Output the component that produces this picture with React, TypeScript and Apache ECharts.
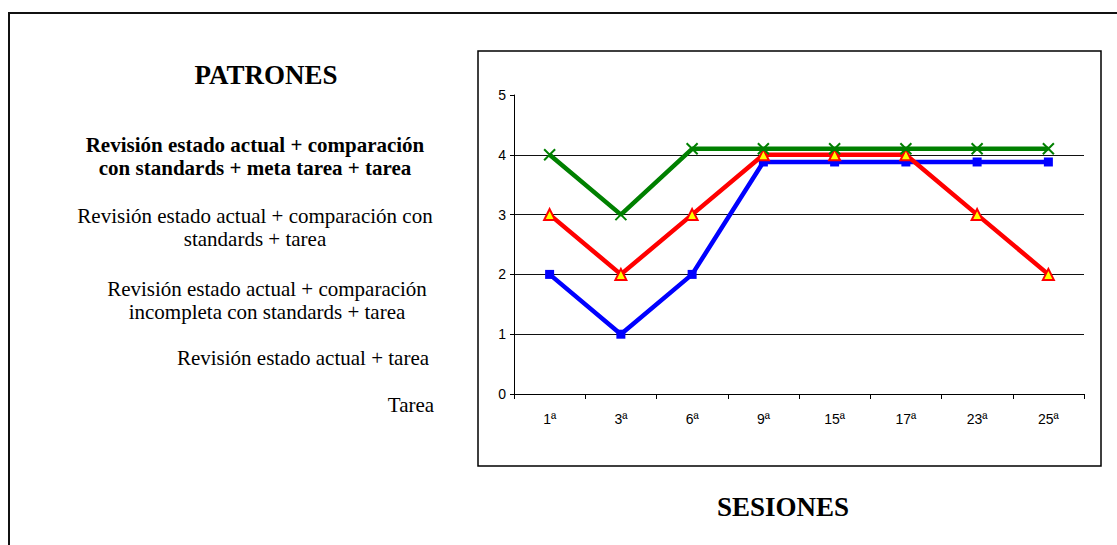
import React, { useEffect, useRef } from "react";
import * as echarts from "echarts";

const sessions = ["1ª", "3ª", "6ª", "9ª", "15ª", "17ª", "23ª", "25ª"];
const blueValues = [2, 1, 2, 3.88, 3.88, 3.88, 3.88, 3.88];
const redValues = [3, 2, 3, 4, 4, 4, 3, 2];
const greenValues = [4, 3, 4.1, 4.1, 4.1, 4.1, 4.1, 4.1];
const yTicks = [0, 1, 2, 3, 4, 5];

const leftTitle = "PATRONES";
const bottomTitle = "SESIONES";
const patternLines = [
  { text: "Revisión estado actual + comparación", bold: true, cx: 255, y: 145 },
  { text: "con standards + meta tarea + tarea", bold: true, cx: 255, y: 168 },
  { text: "Revisión estado actual + comparación con", bold: false, cx: 255, y: 216 },
  { text: "standards + tarea", bold: false, cx: 255, y: 239 },
  { text: "Revisión estado actual + comparación", bold: false, cx: 267, y: 289 },
  { text: "incompleta con standards + tarea", bold: false, cx: 267, y: 312 },
  { text: "Revisión estado actual + tarea", bold: false, cx: 303, y: 358 },
  { text: "Tarea", bold: false, cx: 411, y: 405 },
];

const SERIF = "'Liberation Serif', 'Times New Roman', serif";
const SANS = "'Liberation Sans Narrow', 'Liberation Sans', Arial, sans-serif";

export default function App() {
  const ref = useRef<HTMLDivElement>(null);
  useEffect(() => {
    if (!ref.current) return;
    const chart = echarts.init(ref.current, undefined, { renderer: "svg" });
    const graphics: any[] = [
      {
        type: "rect",
        shape: { x: 9, y: 13, width: 1130, height: 600 },
        style: { fill: "none", stroke: "#111", lineWidth: 2 },
        silent: true,
      },
      {
        type: "rect",
        shape: { x: 478, y: 51, width: 623, height: 415 },
        style: { fill: "none", stroke: "#000", lineWidth: 1.5 },
        silent: true,
      },
      {
        type: "text",
        x: 266,
        y: 75,
        style: {
          text: leftTitle,
          font: `bold 27px ${SERIF}`,
          fill: "#000",
          textAlign: "center",
          textVerticalAlign: "middle",
        },
      },
      {
        type: "text",
        x: 783,
        y: 507,
        style: {
          text: bottomTitle,
          font: `bold 27px ${SERIF}`,
          fill: "#000",
          textAlign: "center",
          textVerticalAlign: "middle",
        },
      },
      ...patternLines.map((l) => ({
        type: "text",
        x: l.cx,
        y: l.y,
        style: {
          text: l.text,
          font: `${l.bold ? "bold " : ""}21px ${SERIF}`,
          fill: "#000",
          textAlign: "center",
          textVerticalAlign: "middle",
        },
      })),
    ];

    chart.setOption({
      animation: false,
      backgroundColor: "#fff",
      grid: { left: 514, top: 95, right: 33, bottom: 151, containLabel: false },
      xAxis: {
        type: "category",
        data: sessions,
        boundaryGap: true,
        axisLine: { show: true, lineStyle: { color: "#000", width: 1 } },
        axisTick: { show: true, length: 5, inside: false, lineStyle: { color: "#000" } },
        axisLabel: { color: "#000", fontFamily: SANS, fontSize: 14, margin: 18 },
        splitLine: { show: false },
      },
      yAxis: {
        type: "value",
        min: yTicks[0],
        max: yTicks[yTicks.length - 1],
        interval: 1,
        axisLine: { show: true, lineStyle: { color: "#000", width: 1 } },
        axisTick: { show: true, length: 4, lineStyle: { color: "#000" } },
        axisLabel: { color: "#000", fontFamily: SANS, fontSize: 14, margin: 8 },
        splitLine: {
          show: true,
          showMinLine: false,
          showMaxLine: false,
          lineStyle: { color: "#111", width: 1 },
        },
      },
      series: [
        {
          type: "line",
          data: blueValues,
          symbol: "rect",
          symbolSize: 9,
          lineStyle: { color: "#0000FF", width: 4.5 },
          itemStyle: { color: "#0000FF" },
          z: 2,
        },
        {
          type: "line",
          data: redValues,
          symbol: "triangle",
          symbolSize: 11,
          lineStyle: { color: "#FF0000", width: 4.5 },
          itemStyle: { color: "#FFFF00", borderColor: "#FF0000", borderWidth: 2 },
          z: 3,
        },
        {
          type: "line",
          data: greenValues,
          symbol: "path://M0,0L10,10M10,0L0,10",
          symbolSize: 11,
          lineStyle: { color: "#008000", width: 4.5 },
          itemStyle: { color: "transparent", borderColor: "#008000", borderWidth: 2 },
          z: 4,
        },
      ],
      graphic: graphics,
    });
    return () => chart.dispose();
  }, []);
  return (
    <div
      ref={ref}
      style={{ position: "fixed", left: 0, top: 0, width: 1117, height: 545 }}
    />
  );
}
